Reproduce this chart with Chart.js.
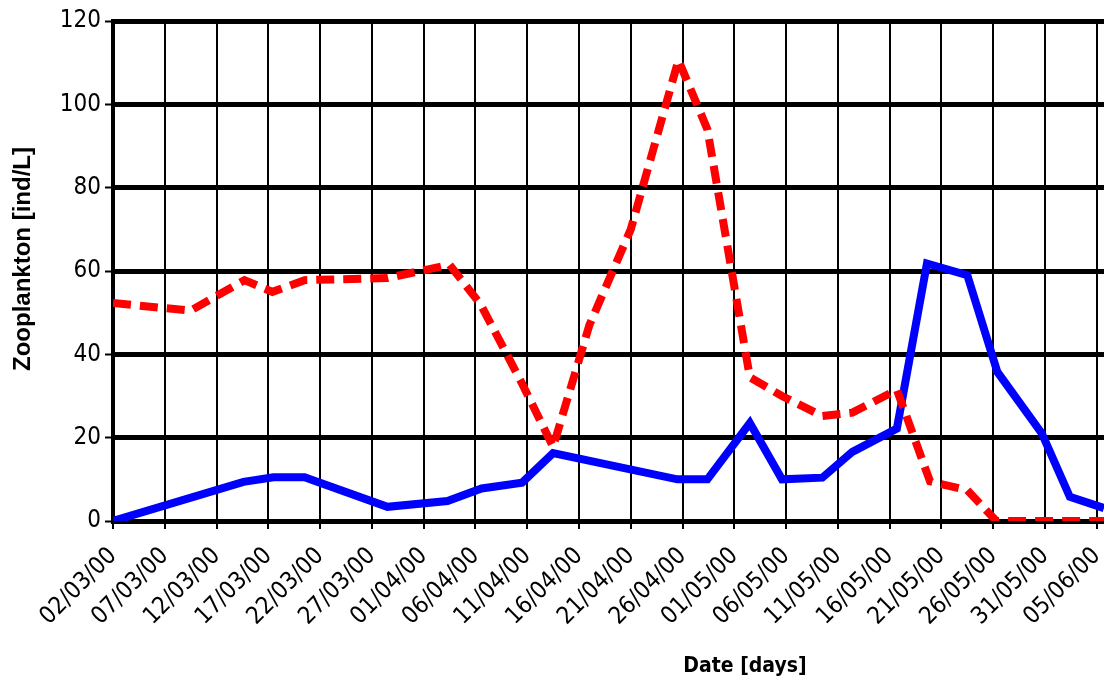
<!DOCTYPE html>
<html>
<head>
<meta charset="utf-8">
<script src="https://cdn.jsdelivr.net/npm/chart.js@4.4.1/dist/chart.umd.min.js"></script>
<style>
  html, body { margin: 0; padding: 0; background: #fff; }
  #wrap { width: 1104px; height: 684px; position: relative; }
</style>
</head>
<body>
<div id="wrap"><canvas id="chart" width="1104" height="684"></canvas></div>
<script>
// Sampling day = days elapsed since 02/03/00
const tickLabels = ['02/03/00', '07/03/00', '12/03/00', '17/03/00', '22/03/00', '27/03/00',
  '01/04/00', '06/04/00', '11/04/00', '16/04/00', '21/04/00', '26/04/00', '01/05/00',
  '06/05/00', '11/05/00', '16/05/00', '21/05/00', '26/05/00', '31/05/00', '05/06/00'];
const yTicks = [0, 20, 40, 60, 80, 100, 120];

// Solid blue series
const blueDays   = [0, 12.6, 15.5, 18.5, 26.5, 32.3, 35.6, 39.5, 42.5, 54.5, 57.4, 61.5, 64.6, 68.5, 71.4, 75.7, 78.6, 82.5, 85.4, 89.7, 92.4, 95.7];
const blueValues = [0, 9.4, 10.5, 10.5, 3.4, 4.8, 7.8, 9.2, 16.3, 10, 10, 23.5, 10, 10.4, 16.6, 22.2, 61.8, 59, 35.8, 21, 5.8, 3.1];

// Dashed red series
const redDays   = [0, 7.5, 12.7, 15.4, 18.5, 26.5, 32.5, 35.5, 39.5, 42.5, 46, 50, 54.6, 57.4, 61.5, 64.6, 68.5, 71.4, 75.7, 78.9, 82.5, 85.3, 89.7, 92.4, 95.7];
const redValues = [52.3, 50.5, 57.8, 55, 57.8, 58.3, 61.5, 52, 33, 17.8, 47, 70, 110.6, 94, 34.5, 30, 25.2, 26, 31.5, 9.5, 7.4, 0, 0, 0, 0];

const xMax = 95.7;
const narrowFamily = "'Liberation Sans Narrow', 'Arial Narrow', 'DejaVu Sans Condensed', sans-serif";
const tickFont = { family: narrowFamily, size: 24 };

const toPoints = (days, vals) => days.map((d, i) => ({ x: d, y: vals[i] }));

// Axis titles drawn at fixed spots
const axisTitles = {
  id: 'axisTitles',
  afterDraw(chart) {
    const ctx = chart.ctx;
    ctx.save();
    ctx.fillStyle = '#000';
    ctx.textAlign = 'center';
    ctx.textBaseline = 'middle';
    ctx.font = 'bold 21px ' + narrowFamily;
    ctx.fillText('Date [days]', 745, 667);
    ctx.translate(23, 259);
    ctx.rotate(-Math.PI / 2);
    ctx.font = "bold 24px 'Liberation Sans', Arial, sans-serif";
    ctx.fillText('Zooplankton [ind/L]', 0, 0);
    ctx.restore();
  }
};

new Chart(document.getElementById('chart'), {
  type: 'line',
  data: {
    datasets: [
      {
        data: toPoints(redDays, redValues),
        borderColor: '#ff0000',
        borderWidth: 8,
        borderDash: [18, 9],
        borderCapStyle: 'butt',
        borderJoinStyle: 'miter',
        pointRadius: 0,
        tension: 0,
        fill: false
      },
      {
        data: toPoints(blueDays, blueValues),
        borderColor: '#0000ff',
        borderWidth: 8,
        borderJoinStyle: 'miter',
        pointRadius: 0,
        tension: 0,
        fill: false
      }
    ]
  },
  options: {
    responsive: false,
    animation: false,
    devicePixelRatio: 1,
    layout: { padding: { top: 21, left: 0, right: 0, bottom: 0 } },
    plugins: { legend: { display: false }, tooltip: { enabled: false } },
    scales: {
      x: {
        type: 'linear',
        min: 0,
        max: xMax,
        afterBuildTicks(scale) {
          scale.ticks = tickLabels.map((_, i) => ({ value: i * 5 }));
        },
        afterFit(scale) {
          scale.height = 163;
          scale.paddingLeft = 0;
          scale.paddingRight = 0;
        },
        ticks: {
          autoSkip: false,
          minRotation: 45,
          maxRotation: 45,
          padding: 13,
          color: '#000',
          font: tickFont,
          callback: (v) => tickLabels[Math.round(v / 5)]
        },
        grid: {
          color: '#000',
          lineWidth: 2,
          tickLength: 8,
          tickWidth: 2,
          tickColor: '#000'
        },
        border: { display: true, color: '#000', width: 5 }
      },
      y: {
        min: 0,
        max: 120,
        afterBuildTicks(scale) {
          scale.ticks = yTicks.map(v => ({ value: v }));
        },
        afterFit(scale) { scale.width = 113; },
        ticks: {
          padding: 4,
          color: '#000',
          font: tickFont
        },
        grid: {
          color: '#000',
          lineWidth: 5,
          tickLength: 8,
          tickWidth: 2,
          tickColor: '#000'
        },
        border: { display: true, color: '#000', width: 4 }
      }
    }
  },
  plugins: [axisTitles]
});
</script>
</body>
</html>
